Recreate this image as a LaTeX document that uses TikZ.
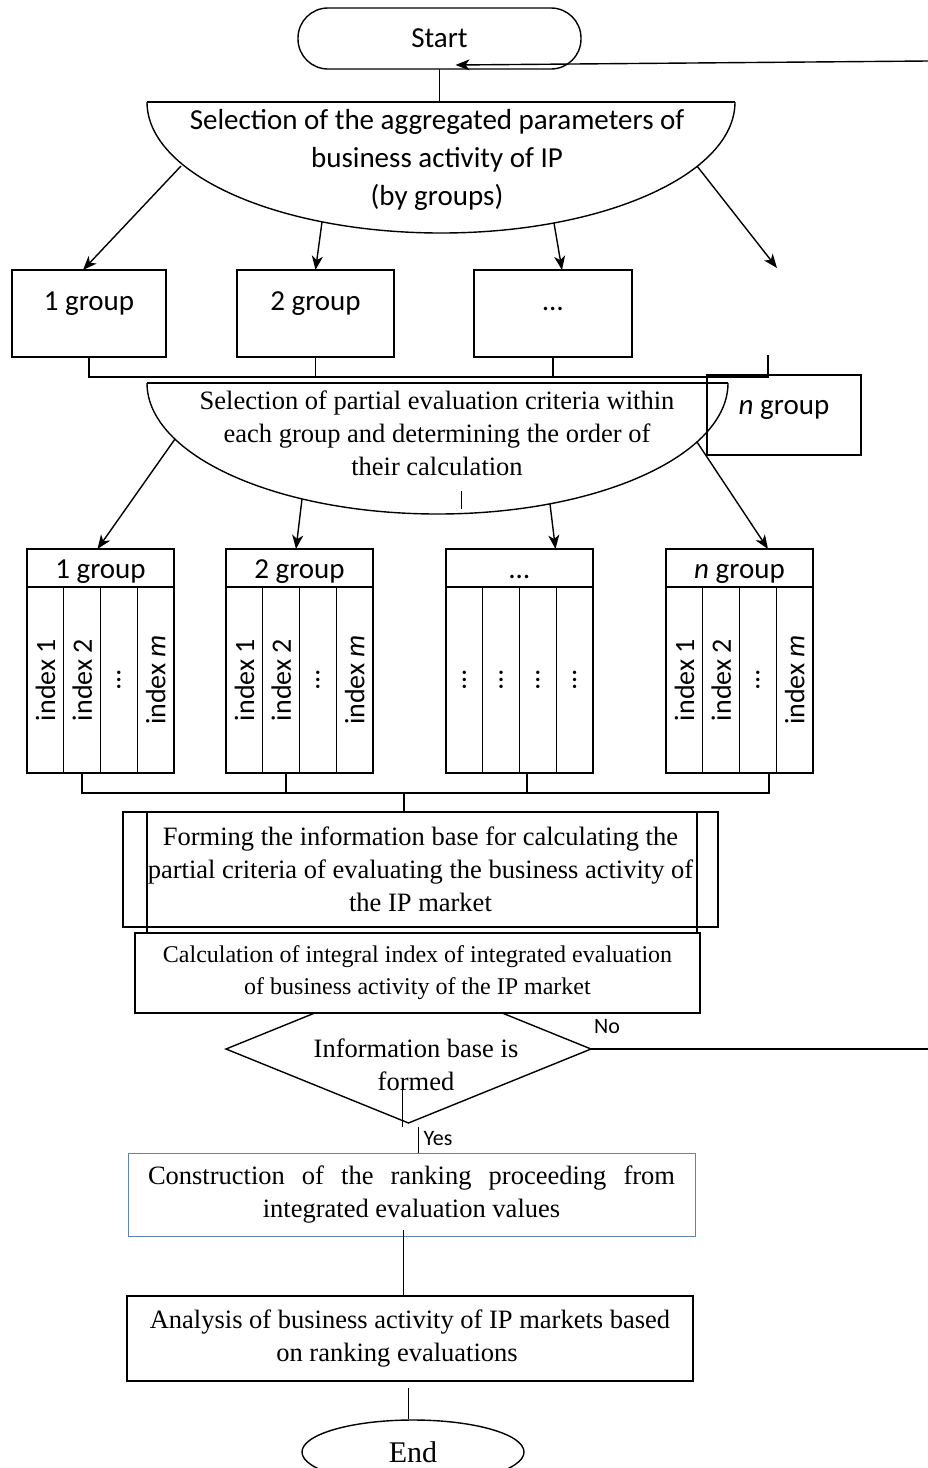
\documentclass[tikz,border=0pt]{standalone}
\usepackage{fontspec}
\setmainfont{Liberation Serif}
\newfontfamily\calibri{Carlito}
\usetikzlibrary{
  arrows.meta,
  calc,
  shapes.geometric
}

\newcommand\fsans{\calibri\fontsize{29}{38}\selectfont}
\newcommand\fidx{\calibri\fontsize{28}{34}\selectfont}
\newcommand\fnote{\calibri\fontsize{22}{26}\selectfont}
\newcommand\fserif{\fontsize{26.5}{33}\selectfont}
\newcommand\fsmall{\fontsize{24}{32}\selectfont}
\newcommand\fend{\fontsize{30}{36}\selectfont}
\definecolor{consblue}{RGB}{95,130,175}

\tikzset{
  box/.style={draw, inner sep=0pt, outer sep=0pt, align=center},
  arr/.style={-{Stealth[length=14pt, width=11pt, inset=4pt]}},
  hair/.style={line width=1pt},
  grptext/.style={font=\fsans, text height=18.5pt, text depth=6pt, yshift=9pt},
  head/.style={box, minimum width=147pt, minimum height=38pt, font=\fsans, text height=28pt, text depth=8pt},
  col/.style={box, rotate=90, minimum width=186pt, minimum height=36.75pt, font=\fidx}
}

\begin{document}
\begin{tikzpicture}[x=1pt, y=-1pt, line width=1.4pt, font=\fserif]
  \useasboundingbox (0,0) rectangle (928,1468);

  \node[box, minimum width=283pt, minimum height=61pt, rounded corners=30pt, font=\fsans]
    (start) at (439.5,38.5) {Start};
  \coordinate (fbR) at (928,61);
  \draw[arr] (fbR) -- ($(start.south)+(16,-4)$);

  \coordinate (e1) at (441,102);
  \begin{scope}
    \clip (140,102) rectangle (745,240);
    \draw (e1) ellipse [x radius=294, y radius=131];
  \end{scope}
  \draw (147,102) -- (735,102);
  \draw (start.south) -- (start.south |- e1);
  \node[align=center, font=\fsans] (sel1) at (437,160)
    {Selection of the aggregated parameters of\\business activity of IP\\(by groups)};

  \node[box, minimum width=154pt, minimum height=87pt,
    label={[name=g1t, grptext]center:1 group}] (g1) at (89,313.5) {};
  \node[box, minimum width=157pt, minimum height=87pt,
    label={[name=g2t, grptext]center:2 group}] (g2) at (315.5,313.5) {};
  \node[box, minimum width=158pt, minimum height=87pt,
    label={[name=g3t, grptext]center:\ldots}] (g3) at (553,313.5) {};
  \node[box, minimum width=154pt, minimum height=80pt,
    label={[name=gnt, grptext, yshift=-2pt]center:\textit{n} group}] (gn) at (784,415) {};

  \coordinate (a1) at (181,166);
  \coordinate (a2) at (322,222);
  \coordinate (a3) at (554,223);
  \coordinate (a4) at (697,166);
  \coordinate (nfree) at (777,268);
  \draw[arr] (a1) -- ($(g1.north)+(-6,0)$);
  \draw[arr] (a2) -- (g2.north);
  \draw[arr] (a3) -- ($(g3.north)+(9,0)$);
  \draw[arr] (a4) -- (nfree);

  \coordinate (bus1) at (768,377);
  \coordinate (nstub) at (768,355);
  \draw (g1.south) |- (bus1) -- (nstub);
  \draw (g2.south) -- (g2.south |- bus1);
  \draw (g3.south) -- (g3.south |- bus1);

  \coordinate (e2) at (437.5,383);
  \begin{scope}
    \clip (140,383) rectangle (740,520);
    \draw (e2) ellipse [x radius=290.5, y radius=131];
  \end{scope}
  \draw (147,383) -- (728,383);
  \draw[hair] (461,491) -- (461,509);
  \node[align=center] (sel2) at (437,433)
    {Selection of partial evaluation criteria within\\each group and determining the order of\\their calculation};

  \foreach \t/\x/\hd in {t1/27/1 group, t2/226/2 group, t3/446/\ldots, tn/666/\textit{n} group} {
      \node[head] (\t) at (\x+73.5,568) {\hd};
    }
  \foreach \t/\x in {t1/27, t2/226, tn/666} {
      \foreach \c/\lbl in {1/index 1, 2/index 2, 3/\ldots, 4/index \textit{m}} {
          \node[col] (\t-\c) at (\x+36.75*\c-18.375,680) {\lbl};
        }
    }
  \foreach \c in {1,...,4} {
      \node[col] (t3-\c) at (446+36.75*\c-18.375,680) {\ldots};
    }

  \coordinate (b1) at (175,439);
  \coordinate (b2) at (302,499);
  \coordinate (b3) at (550,504);
  \coordinate (b4) at (697,442);
  \draw[arr] (b1) -- ($(t1.north)+(-3,0)$);
  \draw[arr] (b2) -- ($(t2.north)+(-3.5,0)$);
  \draw[arr] (b3) -- ($(t3.north)+(36,0)$);
  \draw[arr] (b4) -- ($(tn.north)+(28.5,0)$);

  \node[box, minimum width=595pt, minimum height=115pt] (form) at (420.5,869.5)
    {Forming the information base for calculating the\\partial criteria of evaluating the business activity of\\the IP market};
  \draw ($(form.north west)+(24,0)$) -- ++(0,123);
  \draw ($(form.north east)+(-21,0)$) -- ++(0,123);

  \coordinate (bus2) at (404,793);
  \draw (t1-2.west) |- ($(tn-3.west)+(11,20)$) -- ($(tn-3.west)+(11,0)$);
  \draw ($(t2-2.west)+(5,0)$) -- ++(0,20);
  \draw ($(t3-3.west)+(-11,0)$) -- ++(0,20);
  \draw (bus2) -- (bus2 |- form.north);

  \node[draw, diamond, aspect=2.47, minimum width=365pt, minimum height=148pt,
    inner sep=0pt, outer sep=0pt] (dia) at (408.5,1049) {};
  \node[align=center] (diat) at (416,1065) {Information base is\\formed};
  \node[box, fill=white, minimum width=565pt, minimum height=80pt, font=\fsmall] (calc) at (417.5,973)
    {Calculation of integral index of integrated evaluation\\of business activity of the IP market};

  \coordinate (noR) at (928,1049);
  \draw (dia.east) -- (noR);
  \node[font=\fnote] (no) at (607,1027) {No};

  \node[box, draw=consblue, line width=1pt, minimum width=567pt, minimum height=83pt]
    (cons) at (411.5,1194.5)
    {\makebox[527pt][s]{Construction of the ranking proceeding from}\\integrated evaluation values};
  \draw[hair] (402,1085) -- (402,1127);
  \coordinate (yesTop) at (418,1127);
  \draw[hair] (yesTop) -- (yesTop |- cons.north);
  \node[font=\fnote] (yes) at (438,1139) {Yes};

  \node[box, minimum width=566pt, minimum height=85pt] (ana) at (410,1338.5)
    {Analysis of business activity of IP markets based\\on ranking evaluations\hspace*{26pt}};
  \coordinate (c1) at ($(cons.south)+(-8.5,-6)$);
  \draw[hair] (c1) -- (c1 |- ana.north);

  \node[draw, ellipse, minimum width=222pt, minimum height=64pt, inner sep=0pt, font=\fend]
    (end) at (413,1452) {End};
  \coordinate (d1) at ($(ana.south)+(-2,7)$);
  \draw[hair] (d1) -- (d1 |- end.north);
\end{tikzpicture}
\end{document}
